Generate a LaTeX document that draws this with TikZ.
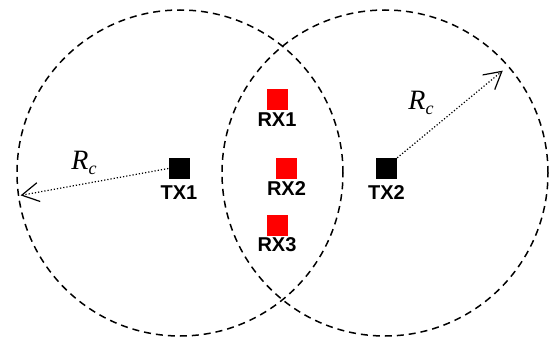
\documentclass[tikz,border=0pt]{standalone}
\usepackage{fontspec}
\setmainfont{Liberation Serif}
\setsansfont{Liberation Sans}
\usetikzlibrary{arrows.meta, positioning}
\newcommand{\rcap}{{\fontsize{28}{30}\selectfont\itshape R\raisebox{-5pt}{\fontsize{18}{20}\selectfont c}}}
\tikzset{
  tx/.style={rectangle, fill=black, minimum size=21pt, inner sep=0pt},
  rx/.style={rectangle, fill=red, minimum size=21pt, inner sep=0pt},
  tag/.style={font=\sffamily\bfseries\fontsize{20}{22}\selectfont, inner sep=0pt},
  zone/.style={draw=black, line width=1.5pt, dash pattern=on 7pt off 5pt},
  arr/.style={-{Straight Barb[length=17pt, width=19pt]}, line width=1.2pt, dotted},
}

\begin{document}
\begin{tikzpicture}[x=1pt, y=1pt]
\useasboundingbox (0,0) rectangle (552,338);
\coordinate (c1) at (180,165);
\coordinate (c2) at (385,165);
\draw[zone] (c1) circle[radius=163pt];
\draw[zone] (c2) circle[radius=163pt];
\node[tx] (tx1) at (179,169.5) {};
\node[tx] (tx2) at (386.5,169.5) {};
\node[rx] (rx1) at (277,238) {};
\node[rx] (rx2) at (286.5,169) {};
\node[rx] (rx3) at (277,113) {};
\node[tag, below=6pt of tx1] (tx1l) {TX1};
\node[tag, below=6pt of tx2] (tx2l) {TX2};
\node[tag, below=2pt of rx1] (rx1l) {RX1};
\node[tag, below=2pt of rx2] (rx2l) {RX2};
\node[tag, below=2pt of rx3] (rx3l) {RX3};
\path (c1) ++(188:161) coordinate (e1);
\path (c2) ++(41:156) coordinate (e2);
\draw[arr] (tx1.west) -- (e1);
\draw[arr] (tx2.north east) -- (e2);
\node (rc1) at (84,175) {\rcap};
\node (rc2) at (421,235) {\rcap};
\end{tikzpicture}
\end{document}
